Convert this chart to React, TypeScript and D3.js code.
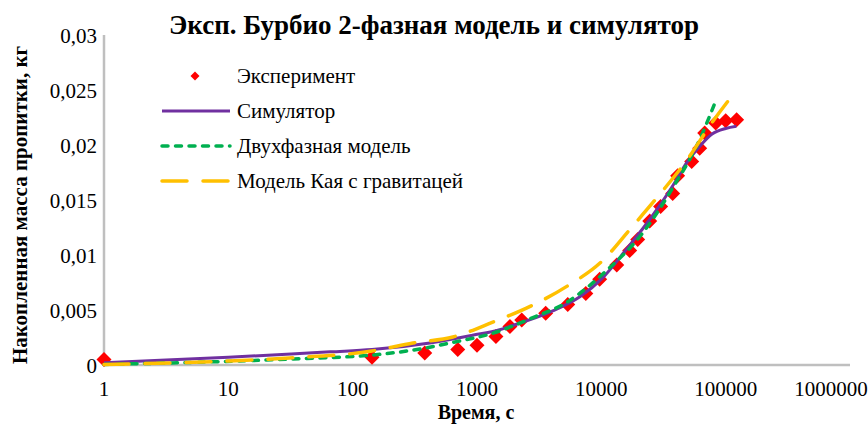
import React from "react";
import * as d3 from "d3";

// time, s (log axis) and accumulated mass, kg
const expTime = [1, 143, 380, 700, 1000, 1420, 1840, 2290, 3570, 5370, 7500, 9700, 13300, 16900, 19600, 24500, 30000, 37500, 41100, 53300, 61800, 67800, 83100, 100000, 122500];
const expMass = [0.0005, 0.0007, 0.0011, 0.0014, 0.0018, 0.0026, 0.0035, 0.0041, 0.0047, 0.0055, 0.0065, 0.0078, 0.0091, 0.0104, 0.0114, 0.0131, 0.0144, 0.0156, 0.0172, 0.0185, 0.0197, 0.0211, 0.022, 0.0222, 0.0223];

const simTime = [1, 10, 66, 143, 418, 920, 1520, 1830, 3850, 6720, 10200, 15850, 25500, 40000, 48000, 61000, 77800, 100000, 122000];
const simMass = [0.0002, 0.0007, 0.0012, 0.0014, 0.002, 0.0027, 0.0032, 0.0035, 0.0048, 0.0062, 0.0079, 0.0105, 0.0135, 0.0168, 0.0183, 0.0198, 0.021, 0.0215, 0.0217];

const twoTime = [1, 8, 43, 143, 367, 604, 1440, 2660, 5270, 11050, 21500, 37500, 61800, 83100];
const twoMass = [0.00005, 0.0003, 0.0006, 0.0009, 0.0015, 0.002, 0.003, 0.0042, 0.0057, 0.0086, 0.012, 0.0161, 0.0205, 0.024];

const kaiTime = [1, 10, 31, 143, 305, 640, 1340, 2810, 5370, 10260, 16900, 29400, 48600, 77200, 122500];
const kaiMass = [0.00005, 0.00036, 0.00064, 0.00127, 0.002, 0.00255, 0.0039, 0.00545, 0.0072, 0.0095, 0.0123, 0.0155, 0.0186, 0.022, 0.025];

const xTicks = [1, 10, 100, 1000, 10000, 100000, 1000000];
const yTicks = [0, 0.005, 0.01, 0.015, 0.02, 0.025, 0.03];
const yTickLabels = ["0", "0,005", "0,01", "0,015", "0,02", "0,025", "0,03"];

const seriesNames = ["Эксперимент", "Симулятор", "Двухфазная модель", "Модель Кая с гравитацей"];

const W = 868, H = 425;
const FONT = "'Liberation Serif', 'Times New Roman', serif";

export default function App() {
  const x = d3.scaleLog().domain([1, 1000000]).range([104, 850]);
  const y = d3.scaleLinear().domain([0, 0.03]).range([365, 35]);

  const line = d3.line<[number, number]>()
    .x(d => x(d[0]))
    .y(d => y(d[1]))
    .curve(d3.curveMonotoneX);

  const zip = (t: number[], m: number[]) => t.map((v, i) => [v, m[i]] as [number, number]);

  const diamond = (r: number) => `M0,${-r}L${r},0L0,${r}L${-r},0Z`;

  const lines = [
    { name: seriesNames[1], d: line(zip(simTime, simMass)), color: "#7030A0", dash: null, w: 3 },
    { name: seriesNames[2], d: line(zip(twoTime, twoMass)), color: "#00B050", dash: "6 7.5", w: 3.5 },
    { name: seriesNames[3], d: line(zip(kaiTime, kaiMass)), color: "#FFC000", dash: "25 16", w: 3.5 },
  ];

  return (
    <svg width={W} height={H} style={{ position: "absolute", left: 0, top: 0, background: "#fff" }} fontFamily={FONT}>
      <text x={434} y={34} textAnchor="middle" fontSize={27} fontWeight="bold">
        Эксп. Бурбио 2-фазная модель и симулятор
      </text>

      {/* axes */}
      <line x1={104} x2={104} y1={35} y2={366} stroke="#BFBFBF" strokeWidth={2.5} />
      <line x1={103} x2={850} y1={365} y2={365} stroke="#BFBFBF" strokeWidth={2.5} />

      {yTicks.map((t, i) => (
        <text key={i} x={97} y={y(t) + 7.5} textAnchor="end" fontSize={21}>{yTickLabels[i]}</text>
      ))}
      {xTicks.map((t, i) => (
        <text key={i} x={Math.min(x(t), W - 37)} y={396} textAnchor="middle" fontSize={21}>{String(t)}</text>
      ))}

      <text x={476} y={419} textAnchor="middle" fontSize={20} fontWeight="bold">Время, с</text>
      <text transform="translate(22,205) rotate(-90)" textAnchor="middle" dominantBaseline="middle" fontSize={21} fontWeight="bold">
        Накопленная масса пропитки, кг
      </text>

      {/* experiment */}
      <g fill="#FF0000">
        {expTime.map((t, i) => (
          <path key={i} d={diamond(7.5)} transform={`translate(${x(t)},${y(expMass[i])})`} />
        ))}
      </g>

      {lines.map(s => (
        <path key={s.name} d={s.d || ""} fill="none" stroke={s.color} strokeWidth={s.w}
          strokeDasharray={s.dash || undefined} strokeLinecap={s.dash ? "round" : "butt"} />
      ))}

      {/* legend */}
      <g fontSize={21}>
        <path d={diamond(4.5)} transform="translate(195,76)" fill="#FF0000" />
        <text x={237} y={83}>{seriesNames[0]}</text>
        {lines.map((s, i) => (
          <g key={s.name}>
            <line x1={162} x2={230} y1={111 + i * 35} y2={111 + i * 35} stroke={s.color} strokeWidth={s.w}
              strokeDasharray={s.dash || undefined} strokeLinecap={s.dash ? "round" : "butt"} />
            <text x={237} y={118 + i * 35}>{s.name}</text>
          </g>
        ))}
      </g>
    </svg>
  );
}
